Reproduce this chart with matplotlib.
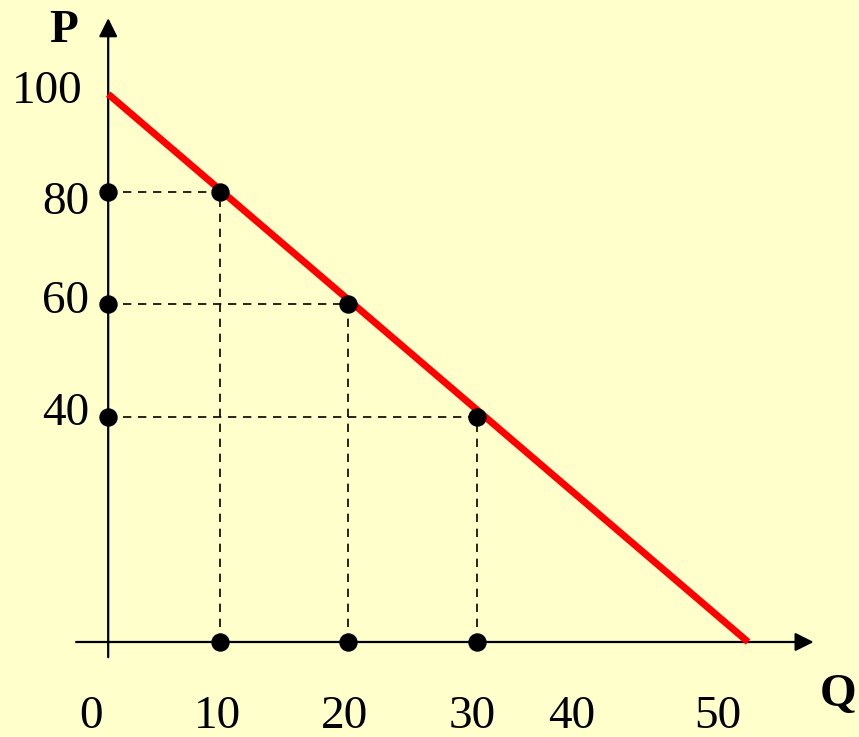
import matplotlib
matplotlib.use('Agg')
import matplotlib.pyplot as plt

BG_COL = '#FFFFCC'
LINE_COL = '#FF0000'
FONT = 'Liberation Serif'
FS = 34

# demand line (starts on the P axis, ends on the Q axis)
DEMAND_Q = [1.3, 51.1]
DEMAND_P = [97.4, 0.0]

# marked points on the demand line
POINT_Q = [10, 20, 30]
POINT_P = [80, 60, 40]

# axis labels
Q_TICKS = [0, 10, 20, 30, 40, 50]
Q_LABEL_POS = [0.0, 9.8, 19.7, 29.6, 37.4, 48.7]  # labels are not evenly placed
P_TICKS = [100, 80, 60, 40]
P_LABEL_POS = [97.9, 78.0, 60.5, 40.5]

AXIS_Q = 1.3  # where the P axis crosses the Q axis

fig = plt.figure(figsize=(8.59, 7.37), dpi=100)
fig.patch.set_facecolor(BG_COL)
ax = fig.add_axes([0, 0, 1, 1])
ax.set_facecolor(BG_COL)
ax.set_xlim(-7.12, 59.73)
ax.set_ylim(-16.89, 114.13)
ax.axis('off')

# axes with arrows
ax.annotate('', xy=(56.2, 0), xytext=(-1.2, 0),
            arrowprops=dict(arrowstyle='-|>', color='black', lw=1.6,
                            mutation_scale=28, shrinkA=0, shrinkB=0))
ax.annotate('', xy=(AXIS_Q, 110.9), xytext=(AXIS_Q, -2.7),
            arrowprops=dict(arrowstyle='-|>', color='black', lw=1.6,
                            mutation_scale=28, shrinkA=0, shrinkB=0))

# dashed guide lines from each point to both axes
for q, p in zip(POINT_Q, POINT_P):
    ax.plot([AXIS_Q, q], [p, p], color='black', lw=1.2, ls=(0, (5, 4)), zorder=2)
    ax.plot([q, q], [0, p], color='black', lw=1.2, ls=(0, (5, 4)), zorder=2)

# demand line
ax.plot(DEMAND_Q, DEMAND_P, color=LINE_COL, lw=5, solid_capstyle='butt', zorder=3)

# dots on the line and on both axes
ax.scatter(POINT_Q, POINT_P, s=150, color='black', zorder=4)
ax.scatter(POINT_Q, [0] * len(POINT_Q), s=150, color='black', zorder=4)
ax.scatter([AXIS_Q] * len(POINT_P), POINT_P, s=150, color='black', zorder=4)

# tick labels
for t, x in zip(Q_TICKS, Q_LABEL_POS):
    ax.text(x, -13.3, str(t), ha='center', va='center', fontsize=FS, family=FONT)
for t, y in zip(P_TICKS, P_LABEL_POS):
    xr = -0.7 if t == 100 else -0.2
    ax.text(xr, y, str(t), ha='right', va='center', fontsize=FS, family=FONT)

ax.text(-2.2, 108.7, 'P', ha='center', va='center', fontsize=FS,
        family=FONT, weight='bold')
ax.text(58.1, -9.5, 'Q', ha='center', va='center', fontsize=FS,
        family=FONT, weight='bold')

fig.savefig('out.png', dpi=100, facecolor=BG_COL)
